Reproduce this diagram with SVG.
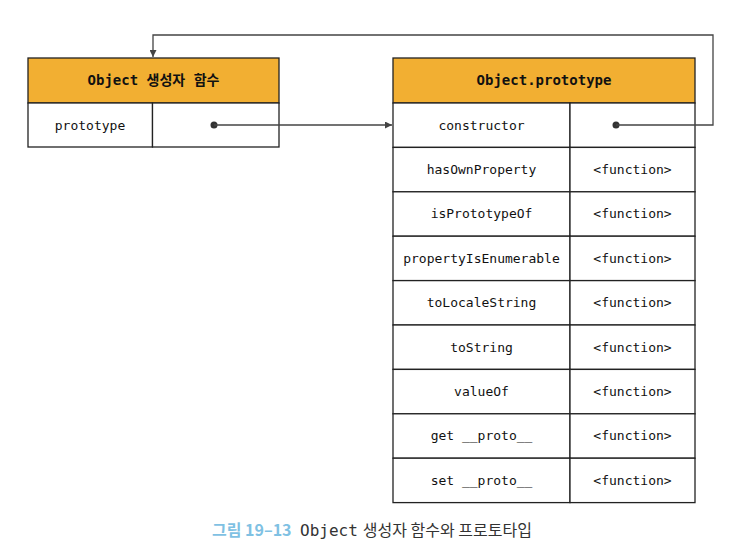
<svg xmlns="http://www.w3.org/2000/svg" width="729" height="558" viewBox="0 0 729 558">
<style>
.hd{fill:#F2AF32;stroke:#222;stroke-width:1.3}
.cell{fill:#fff;stroke:#222;stroke-width:1.3}
.ht{font-family:"DejaVu Sans Mono","Noto Sans CJK KR",monospace;font-size:14px;font-weight:bold;fill:#111;text-anchor:middle}
.t{font-family:"DejaVu Sans Mono","Noto Sans CJK KR",monospace;font-size:13px;fill:#111;text-anchor:middle}
.ln{fill:none;stroke:#444;stroke-width:1.3}
</style>
<defs>
<marker id="ah" viewBox="0 0 10 10" refX="10" refY="5" markerWidth="7" markerHeight="7" orient="auto" markerUnits="userSpaceOnUse">
<path d="M0,0 L10,5 L0,10 z" fill="#444"/>
</marker>
</defs>
<rect width="729" height="558" fill="#fff"/>
<g id="ctor">
<rect class="hd" x="28" y="58" width="251" height="45"/>
<text class="ht" x="153.5" y="85">Object 생성자 함수</text>
<rect class="cell" x="28" y="103" width="124.5" height="44"/>
<rect class="cell" x="152.5" y="103" width="126.5" height="44"/>
<text class="t" x="90" y="129.5">prototype</text>
<circle cx="214" cy="125" r="3.5" fill="#333"/>
</g>
<g id="proto">
<rect class="hd" x="393" y="58" width="302" height="45"/>
<text class="ht" x="544" y="85">Object.prototype</text>
<g>
<rect class="cell" x="393" y="103" width="177" height="44.4"/><rect class="cell" x="570" y="103" width="125" height="44.4"/>
<rect class="cell" x="393" y="147.4" width="177" height="44.4"/><rect class="cell" x="570" y="147.4" width="125" height="44.4"/>
<rect class="cell" x="393" y="191.8" width="177" height="44.4"/><rect class="cell" x="570" y="191.8" width="125" height="44.4"/>
<rect class="cell" x="393" y="236.2" width="177" height="44.4"/><rect class="cell" x="570" y="236.2" width="125" height="44.4"/>
<rect class="cell" x="393" y="280.6" width="177" height="44.4"/><rect class="cell" x="570" y="280.6" width="125" height="44.4"/>
<rect class="cell" x="393" y="325" width="177" height="44.4"/><rect class="cell" x="570" y="325" width="125" height="44.4"/>
<rect class="cell" x="393" y="369.4" width="177" height="44.4"/><rect class="cell" x="570" y="369.4" width="125" height="44.4"/>
<rect class="cell" x="393" y="413.8" width="177" height="44.4"/><rect class="cell" x="570" y="413.8" width="125" height="44.4"/>
<rect class="cell" x="393" y="458.2" width="177" height="44.4"/><rect class="cell" x="570" y="458.2" width="125" height="44.4"/>
</g>
<text class="t" x="481.5" y="129.5">constructor</text>
<circle cx="616" cy="125" r="3.5" fill="#333"/>
<text class="t" x="481.5" y="174">hasOwnProperty</text><text class="t" x="632.5" y="174">&lt;function&gt;</text>
<text class="t" x="481.5" y="218.4">isPrototypeOf</text><text class="t" x="632.5" y="218.4">&lt;function&gt;</text>
<text class="t" x="481.5" y="262.8">propertyIsEnumerable</text><text class="t" x="632.5" y="262.8">&lt;function&gt;</text>
<text class="t" x="481.5" y="307.2">toLocaleString</text><text class="t" x="632.5" y="307.2">&lt;function&gt;</text>
<text class="t" x="481.5" y="351.6">toString</text><text class="t" x="632.5" y="351.6">&lt;function&gt;</text>
<text class="t" x="481.5" y="396">valueOf</text><text class="t" x="632.5" y="396">&lt;function&gt;</text>
<text class="t" x="481.5" y="440.4">get __proto__</text><text class="t" x="632.5" y="440.4">&lt;function&gt;</text>
<text class="t" x="481.5" y="484.8">set __proto__</text><text class="t" x="632.5" y="484.8">&lt;function&gt;</text>
</g>
<g id="connectors">
<path class="ln" d="M214,125 H392" marker-end="url(#ah)"/>
<path class="ln" d="M616,125 H713 V35 H153 V57" marker-end="url(#ah)"/>
</g>
<g id="caption">
<text x="212" y="536" font-family="'Noto Sans CJK KR','Noto Sans',sans-serif" font-size="16" font-weight="bold" fill="#7FC1E3">그림 19–13</text>
<text x="300" y="536" font-family="'DejaVu Sans Mono','Noto Sans CJK KR',monospace" font-size="16" fill="#333">Object<tspan dx="5" font-family="'Noto Sans CJK KR',sans-serif">생성자 함수와 프로토타입</tspan></text>
</g>
</svg>
